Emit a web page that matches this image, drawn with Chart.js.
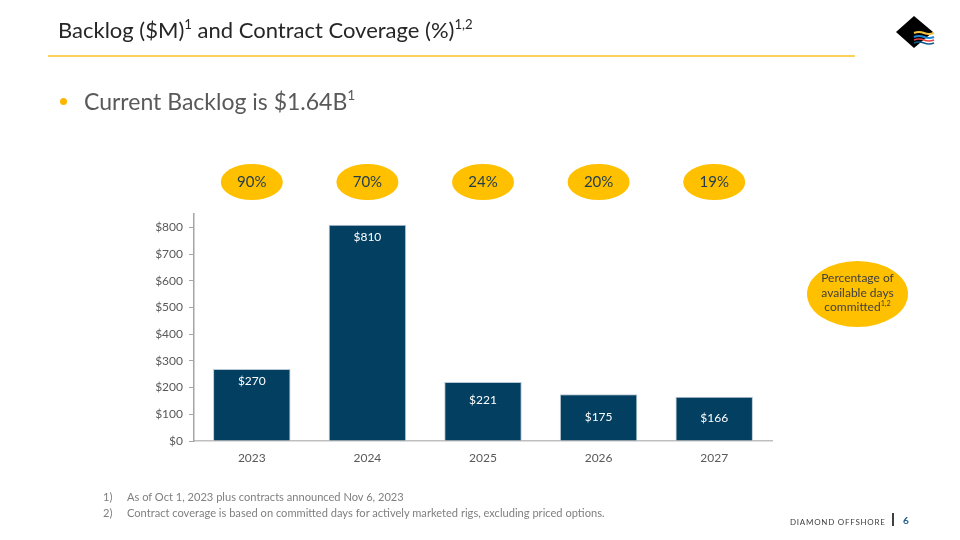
<!DOCTYPE html>
<html>
<head>
<meta charset="utf-8">
<script src="https://cdn.jsdelivr.net/npm/chart.js@4"></script>
<style>
  html, body { margin: 0; padding: 0; background: #fff; }
  body { width: 960px; height: 540px; position: relative; overflow: hidden; font-family: Lato, "Open Sans", sans-serif; }
  #grafico { position: absolute; left: 0; top: 0; }
  .titulo { position: absolute; left: 58px; top: 16px; font-size: 22px; color: #262626; white-space: nowrap; }
  .titulo sup, .bullet sup, .nota sup { font-size: 60%; vertical-align: 0; position: relative; top: -0.7em; }
  .linea { position: absolute; left: 48px; top: 55px; width: 807px; height: 2px; background: #fbd35c; }
  .bullet { position: absolute; left: 84px; top: 87px; font-size: 23px; color: #595959; white-space: nowrap; }
  .punto { position: absolute; left: 60px; top: 98px; width: 7px; height: 7px; border-radius: 50%; background: #ffb400; }
  .nota { position: absolute; left: 807px; top: 261px; width: 101px; height: 66px; border-radius: 50%; background: #ffc000;
          display: flex; align-items: center; justify-content: center; text-align: center; font-size: 12px; line-height: 14.5px; color: #404040; }
  .pie { position: absolute; left: 103px; font-size: 11.1px; color: #7f7f7f; white-space: nowrap; }
  .pie span { display: inline-block; width: 24px; }
  .marca { position: absolute; left: 790px; top: 517px; font-size: 8px; letter-spacing: 0.75px; color: #404040; white-space: nowrap; }
  .sep { position: absolute; left: 892px; top: 513px; width: 1.5px; height: 13px; background: #404040; }
  .pagina { position: absolute; left: 903px; top: 514px; font-size: 10px; color: #1f5f8b; font-weight: bold; }
  .logo { position: absolute; left: 893px; top: 14px; }
</style>
</head>
<body>
<canvas id="grafico" width="960" height="540"></canvas>
<div class="titulo">Backlog ($M)<sup>1</sup> and Contract Coverage (%)<sup>1,2</sup></div>
<div class="linea"></div>
<div class="punto"></div>
<div class="bullet">Current Backlog is $1.64B<sup>1</sup></div>
<div class="nota"><div>Percentage of<br>available days<br>committed<sup>1,2</sup></div></div>
<div class="pie" style="top:490px"><span>1)</span>As of Oct 1, 2023 plus contracts announced Nov 6, 2023</div>
<div class="pie" style="top:506px"><span>2)</span>Contract coverage is based on committed days for actively marketed rigs, excluding priced options.</div>
<div class="marca">DIAMOND OFFSHORE</div>
<div class="sep"></div>
<div class="pagina">6</div>
<svg class="logo" width="50" height="36" viewBox="0 0 50 36">
  <polygon points="3,18 21,2 40,18 21,34" fill="#000"/>
  <path d="M21,19 q5,-2 10,0 t10,0" stroke="#f5c242" stroke-width="2.2" fill="none"/>
  <path d="M21,23 q5,-2 10,0 t10,0" stroke="#1e88d8" stroke-width="2.2" fill="none"/>
  <path d="M21,26 q5,-2 10,0 t10,0" stroke="#e84040" stroke-width="1.6" fill="none"/>
  <path d="M21,29 q5,-2 10,0 t10,0" stroke="#0d5c8f" stroke-width="1.6" fill="none"/>
</svg>
<script>
// Datos
const anios = ['2023', '2024', '2025', '2026', '2027'];
const backlog = [270, 810, 221, 175, 166];
const cobertura = [90, 70, 24, 20, 19];
const ticksY = [0, 100, 200, 300, 400, 500, 600, 700, 800];

// desplazamiento de cada etiqueta bajo el borde superior de su barra (px)
const bajadaEtiqueta = [12, 12, 18, 23, 21];

// Etiquetas de valor dentro de cada barra
const etiquetasBarras = {
    id: 'etiquetasBarras',
    afterDatasetsDraw(chart) {
        const ctx = chart.ctx;
        const meta = chart.getDatasetMeta(0);
        ctx.save();
        ctx.fillStyle = '#ffffff';
        ctx.font = '12px Lato, "Open Sans", sans-serif';
        ctx.textAlign = 'center';
        ctx.textBaseline = 'middle';
        meta.data.forEach((bar, i) => {
            ctx.fillText('$' + backlog[i], bar.x, bar.y + bajadaEtiqueta[i]);
        });
        ctx.restore();
    }
};

// Elipses de cobertura sobre cada año
const elipsesCobertura = {
    id: 'elipsesCobertura',
    afterDraw(chart) {
        const ctx = chart.ctx;
        const x = chart.scales.x;
        ctx.save();
        cobertura.forEach((v, i) => {
            const cx = x.getPixelForValue(i);
            const cy = 182;
            ctx.beginPath();
            ctx.ellipse(cx, cy, 31, 18, 0, 0, Math.PI * 2);
            ctx.fillStyle = '#ffc000';
            ctx.fill();
            ctx.fillStyle = '#1f3b4d';
            ctx.font = '15px Lato, "Open Sans", sans-serif';
            ctx.textAlign = 'center';
            ctx.textBaseline = 'middle';
            ctx.fillText(v + '%', cx, cy);
        });
        ctx.restore();
    }
};

const ctxGrafico = document.getElementById('grafico').getContext('2d');
new Chart(ctxGrafico, {
    type: 'bar',
    data: {
        labels: anios,
        datasets: [{
            label: 'Backlog ($M)',
            data: backlog,
            backgroundColor: '#023f61',
            borderColor: '#b9c8d4',
            borderWidth: 1,
            categoryPercentage: 1,
            barPercentage: 0.67
        }]
    },
    options: {
        responsive: false,
        animation: false,
        layout: { padding: { left: 0, top: 214, right: 188, bottom: 0 } },
        plugins: {
            legend: { display: false },
            tooltip: { enabled: false }
        },
        scales: {
            x: {
                afterFit(scale) { scale.height = 99; },
                grid: { display: false, drawTicks: false },
                border: { color: '#bfbfbf', width: 1.5 },
                ticks: {
                    padding: 10,
                    color: '#595959',
                    font: { family: 'Lato, "Open Sans", sans-serif', size: 12 }
                }
            },
            y: {
                min: 0,
                max: 850,
                afterFit(scale) { scale.width = 194; },
                afterBuildTicks(scale) {
                    scale.ticks = ticksY.map(v => ({ value: v }));
                },
                grid: { drawOnChartArea: false, tickLength: 5, color: '#a6a6a6' },
                border: { color: '#a6a6a6', width: 1.5 },
                ticks: {
                    padding: 6,
                    color: '#595959',
                    font: { family: 'Lato, "Open Sans", sans-serif', size: 12 },
                    callback: v => '$' + v
                }
            }
        }
    },
    plugins: [etiquetasBarras, elipsesCobertura]
});
</script>
</body>
</html>
